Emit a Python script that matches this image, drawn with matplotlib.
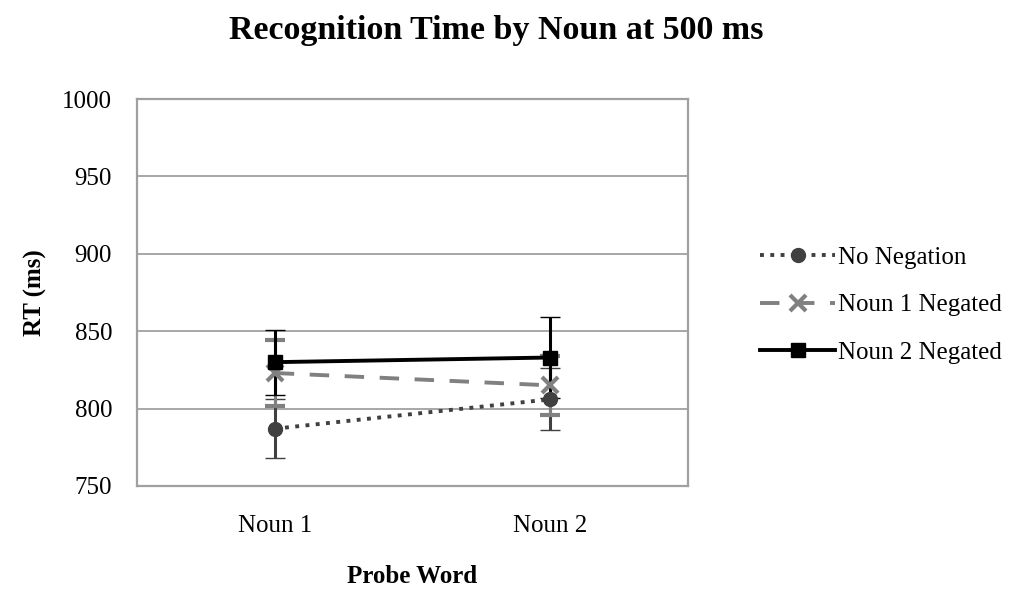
"""
Recognition time by noun at 500 ms
"""

import matplotlib
matplotlib.use('Agg')
import matplotlib.pyplot as plt

plt.rcParams['font.family'] = ['Liberation Serif', 'DejaVu Serif']

probe_words = ['Noun 1', 'Noun 2']
series_names = ['No Negation', 'Noun 1 Negated', 'Noun 2 Negated']
no_negation = [787, 806]
no_negation_err = [19, 20]
noun1_negated = [823, 815]
noun1_negated_err = [21, 19]
noun2_negated = [830, 833]
noun2_negated_err = [21, 26]
y_ticks = [750, 800, 850, 900, 950, 1000]

fig = plt.figure(figsize=(10.17, 5.9), dpi=100)
ax = fig.add_axes([137 / 1017, 1 - 486 / 590, 551 / 1017, 387 / 590])

x = list(range(len(probe_words)))

#Plotting the three series with error bars
styles = [
    (no_negation, no_negation_err, '#404040', ':', 'o', 10),
    (noun1_negated, noun1_negated_err, '#808080', (0, (5, 4)), 'x', 11),
    (noun2_negated, noun2_negated_err, '#000000', '-', 's', 10),
]
handles = []
for (vals, err, col, ls, mk, ms), name in zip(styles, series_names):
    eb = ax.errorbar(x, vals, yerr=err, color=col, ecolor=col, elinewidth=2.2,
                     capsize=7, capthick=2.2, linestyle=ls, linewidth=2.8,
                     marker=mk, markersize=ms, markeredgewidth=3 if mk == 'x' else 1,
                     label=name, zorder=3)
    handles.append(eb.lines[0])

ax.set_xlim(-0.5, 1.5)
ax.set_ylim(750, 1000)
ax.set_yticks(y_ticks)
ax.set_xticks(x)
ax.set_xticklabels(probe_words)
ax.yaxis.grid(True, color='#a0a0a0', linewidth=1.3)
ax.set_axisbelow(True)
for sp in ax.spines.values():
    sp.set_color('#a0a0a0')
    sp.set_linewidth(1.6)
ax.tick_params(length=0, labelsize=18, pad=18)
ax.tick_params(axis='x', pad=21)

ax.set_ylabel('RT (ms)', fontsize=18, fontweight='bold', labelpad=11)
ax.set_xlabel('Probe Word', fontsize=18, fontweight='bold', labelpad=20)
fig.text(496 / 1017, 1 - 30 / 590, 'Recognition Time by Noun at 500 ms',
         fontsize=24.5, fontweight='bold', ha='center', va='center')

#Adding legend
fig.legend(handles, series_names, loc='center left',
           bbox_to_anchor=(750 / 1017, 1 - 305 / 590), frameon=False,
           fontsize=18, handlelength=3.0, handletextpad=0.1, labelspacing=1.0,
           borderaxespad=0)

plt.savefig('out.png', dpi=100)
